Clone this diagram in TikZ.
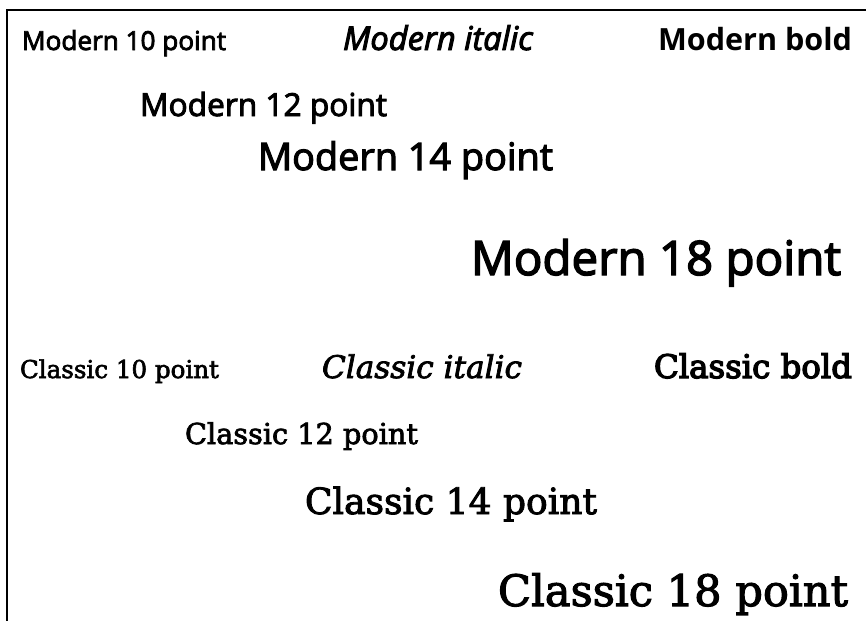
\documentclass[tikz,border=0pt]{standalone}
\usepackage{fontspec}
\setmainfont{DejaVu Serif}
\newfontfamily\modernfont[FakeBold=3]{Open Sans}
\newfontfamily\modernbold{Open Sans}
\newfontfamily\classicfont[FakeBold=2.5]{DejaVu Serif}
\newfontfamily\classicbold[FakeBold=4]{DejaVu Serif}
\newcommand{\fitw}[2]{\resizebox{#1pt}{!}{#2}}
\tikzset{
  sample/.style={anchor=base west, inner sep=0pt, outer sep=0pt},
  modern/.style={sample, font=\modernfont},
  modernb/.style={sample, font=\modernbold\bfseries},
  classic/.style={sample, font=\classicfont},
  classicb/.style={sample, font=\classicbold},
  frame/.style={line width=2pt, black}
}
\begin{document}
\begin{tikzpicture}[x=1pt, y=-1pt]
  \useasboundingbox (0,0) rectangle (866,621);
  \coordinate (tr) at (866,9.5);
  \coordinate (tl) at (7,9.5);
  \coordinate (bl) at (7,621);
  \draw[frame] (tr) -- (tl) -- (bl);

  \node[modern] (m10) at (22,50) {\fitw{204}{Modern 10 point}};
  \node[modern] (mit) at (343,50) {\fitw{190}{\itshape Modern italic}};
  \node[modernb] (mbd) at (658,50) {\fitw{194}{Modern bold}};
  \node[modern] (m12) at (140,116) {\fitw{247}{Modern 12 point}};
  \node[modern] (m14) at (258,170) {\fitw{295}{Modern 14 point}};
  \node[modern] (m18) at (471,275) {\fitw{370}{Modern 18 point}};

  \node[classic] (c10) at (20,378) {\fitw{199}{Classic 10 point}};
  \node[classic] (cit) at (322,378) {\fitw{200}{\itshape Classic italic}};
  \node[classicb] (cbd) at (654,378) {\fitw{198}{Classic bold}};
  \node[classic] (c12) at (185,444) {\fitw{233}{Classic 12 point}};
  \node[classic] (c14) at (305,514) {\fitw{292}{Classic 14 point}};
  \node[classic] (c18) at (498,606) {\fitw{350}{Classic 18 point}};
\end{tikzpicture}
\end{document}
